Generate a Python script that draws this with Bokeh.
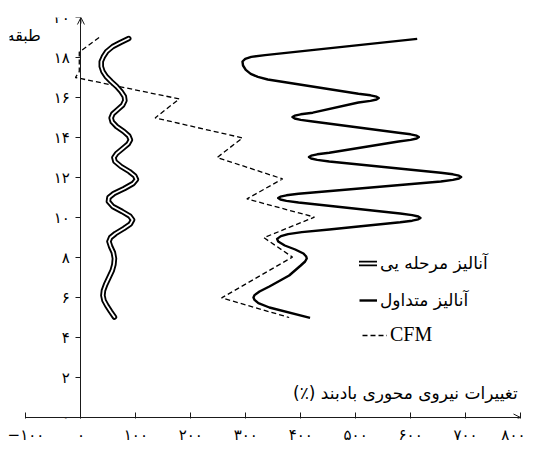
from bokeh.plotting import figure
from bokeh.models import (Range1d, LinearAxis, FixedTicker, Arrow, OpenHead,
                          Label, Legend, LegendItem)
from bokeh.embed import file_html
from bokeh.resources import INLINE

# ---- data -------------------------------------------------------------
x_ticks = [-100, 0, 100, 200, 300, 400, 500, 600, 700, 800]
x_tick_labels = ["−۱۰۰", "۰", "۱۰۰", "۲۰۰", "۳۰۰", "۴۰۰", "۵۰۰", "۶۰۰", "۷۰۰", "۸۰۰"]
y_ticks = [0, 2, 4, 6, 8, 10, 12, 14, 16, 18, 20]
y_tick_labels = ["۰", "۲", "۴", "۶", "۸", "۱۰", "۱۲", "۱۴", "۱۶", "۱۸", "۲۰"]

series_names = ["آنالیز مرحله یی", "آنالیز متداول", "CFM"]
x_title = "(٪) تغییرات نیروی محوری بادبند"
y_title = "طبقه"

# staged analysis (double line)
staged_floor = [18.95, 18.75, 18.55, 18.3, 18.05, 17.8, 17.55, 17.3, 17.05, 16.8, 16.55,
                16.3, 16.05, 15.85, 15.62, 15.4, 15.18, 14.98, 14.78, 14.55, 14.3,
                14.08, 13.88, 13.68, 13.45, 13.2, 13.0, 12.8, 12.55, 12.3, 12.08,
                11.9, 11.7, 11.45, 11.2, 11.0, 10.8, 10.55, 10.3, 10.07, 9.88, 9.68,
                9.45, 9.2, 9.0, 8.8, 8.55, 8.25, 7.95, 7.65, 7.35, 7.0, 6.65, 6.35,
                6.1, 5.85, 5.6, 5.3, 5.02]
staged_value = [87, 72, 58, 47, 41, 37, 37, 40, 46, 55, 65,
                73, 79, 80, 76, 67, 58, 55, 57, 65, 78,
                87, 90, 86, 76, 65, 60, 62, 73, 88, 98,
                101, 95, 79, 60, 51, 50, 58, 75, 89, 94, 90,
                78, 63, 54, 51, 54, 59, 61, 60, 57, 51, 45, 41,
                40, 42, 47, 54, 61]

# conventional analysis (solid line)
conv_floor = [18.93, 18.12, 18.03, 17.93, 17.8, 17.6, 17.38, 17.18, 17.03, 16.9,
              16.19, 16.11, 16.04, 15.97, 15.9, 15.83, 15.75,
              15.24, 15.16, 15.09, 15.02, 14.95, 14.88, 14.8,
              14.24, 14.16, 14.09, 14.02, 13.95, 13.88, 13.8,
              13.24, 13.16, 13.09, 13.02, 12.95, 12.88, 12.8,
              12.24, 12.16, 12.09, 12.02, 11.95, 11.88, 11.8,
              11.19, 11.11, 11.04, 10.97, 10.9, 10.83, 10.75,
              10.2, 10.12, 10.05, 9.98, 9.91, 9.84, 9.76,
              9.55, 9.4, 9.27, 9.17, 9.07, 8.93, 8.8, 8.6, 8.4, 8.2, 8.05, 7.95,
              7.8, 7.6, 7.1, 6.55, 6.3, 6.12, 6.0, 5.88, 5.72, 5.5, 4.98]
conv_value = [612, 335, 310, 299, 294, 295, 300, 309, 322, 340,
              505, 527, 538, 542, 538, 527, 505,
              422, 400, 389, 385, 389, 400, 422,
              578, 600, 611, 615, 611, 600, 578,
              452, 430, 419, 415, 419, 430, 452,
              655, 677, 688, 692, 688, 677, 655,
              396, 374, 363, 359, 363, 374, 396,
              581, 603, 614, 618, 614, 603, 581,
              505, 452, 402, 377, 364, 357, 359, 371, 390, 405, 410, 411,
              408, 400, 379, 343, 325, 316, 314, 316, 323, 343, 417]

# CFM (dashed line)
cfm_floor = [19.0, 18.27, 17.3, 17.0, 15.93, 14.98, 13.98, 13.0, 11.93, 10.93, 10.02,
             8.99, 8.02, 5.98, 5.0]
cfm_value = [33, -3, -3, -10, 179, 135, 294, 248, 367, 302, 425,
             333, 385, 256, 379]

AXIS_X_START, X_MAX = -100, 800
VIEW_X_MIN = -130
Y_MIN, Y_MAX = 0, 20

# ---- figure -----------------------------------------------------------
FA_FONT = "DejaVu Sans"
INK = "#1a1a1a"

p = figure(frame_width=511, frame_height=401,
           x_range=Range1d(VIEW_X_MIN, X_MAX), y_range=Range1d(Y_MIN - 0.05, Y_MAX),
           y_axis_location=None, toolbar_location=None, output_backend="svg",
           min_border_left=9, min_border_right=5, min_border_top=17,
           min_border_bottom=26)
p.grid.visible = False
p.outline_line_color = None
p.background_fill_color = "white"

xa = p.xaxis[0]
xa.ticker = FixedTicker(ticks=x_ticks)
xa.major_label_overrides = {t: l for t, l in zip(x_ticks, x_tick_labels)}
xa.major_tick_in = 6
xa.major_tick_out = 0
xa.minor_tick_in = 0
xa.minor_tick_out = 0
xa.axis_line_color = None
xa.major_tick_line_color = INK
xa.major_label_text_font = FA_FONT
xa.major_label_text_font_size = "15px"
xa.major_label_text_color = "black"
xa.major_label_standoff = 7

ya = LinearAxis(fixed_location=0, ticker=FixedTicker(ticks=y_ticks))
ya.major_label_overrides = {t: l for t, l in zip(y_ticks, y_tick_labels)}
ya.major_tick_in = 0
ya.major_tick_out = 5
ya.minor_tick_in = 0
ya.minor_tick_out = 0
ya.axis_line_color = INK
ya.major_tick_line_color = INK
ya.major_label_text_font = FA_FONT
ya.major_label_text_font_size = "15px"
ya.major_label_text_color = "black"
ya.major_label_standoff = 6
p.add_layout(ya, "left")

# x axis line (starts at -100 like the original) and arrows
p.segment(x0=[AXIS_X_START], y0=[Y_MIN], x1=[X_MAX], y1=[Y_MIN],
          line_color=INK, line_width=1)
p.add_layout(Arrow(end=OpenHead(size=7, line_color=INK, line_width=1),
                   line_color=INK, line_width=1,
                   x_start=X_MAX - 15, y_start=Y_MIN, x_end=X_MAX, y_end=Y_MIN))
p.add_layout(Arrow(end=OpenHead(size=7, line_color=INK, line_width=1),
                   line_color=INK, line_width=1,
                   x_start=0, y_start=Y_MAX - 0.3, x_end=0, y_end=Y_MAX))

# curves
r_cfm = p.line(cfm_value, cfm_floor, line_color="black", line_width=1.3,
               line_dash="5 3")
r_outer = p.line(staged_value, staged_floor, line_color="black", line_width=5.5,
                 line_cap="round", line_join="round")
r_inner = p.line(staged_value, staged_floor, line_color="white", line_width=1.8,
                 line_cap="round", line_join="round")
r_conv = p.line(conv_value, conv_floor, line_color="black", line_width=2.4,
                line_join="round")

legend_fa = Legend(items=[LegendItem(label=series_names[0], renderers=[r_outer, r_inner]),
                          LegendItem(label=series_names[1], renderers=[r_conv])],
                   location=(350, 108), padding=0, margin=0, spacing=17,
                   glyph_width=18, glyph_height=14, label_height=20,
                   label_standoff=3, border_line_alpha=0, background_fill_alpha=0,
                   label_text_font=FA_FONT, label_text_font_size="17px",
                   label_text_color="black")
legend_en = Legend(items=[LegendItem(label=series_names[2], renderers=[r_cfm])],
                   location=(353, 72), padding=0, margin=0,
                   glyph_width=25, glyph_height=14, label_height=22,
                   label_standoff=3, border_line_alpha=0, background_fill_alpha=0,
                   label_text_font="Liberation Serif", label_text_font_size="20px",
                   label_text_color="black")
p.add_layout(legend_fa)
p.add_layout(legend_en)

p.add_layout(Label(x=795, y=1.25, text=x_title, text_align="right",
                   text_baseline="middle", text_font=FA_FONT,
                   text_font_size="17px", text_color="black"))
p.add_layout(Label(x=-73, y=19.1, text=y_title, text_align="right",
                   text_baseline="middle", text_font=FA_FONT,
                   text_font_size="16px", text_color="black"))

open("out.html", "w").write(file_html(p, INLINE))
